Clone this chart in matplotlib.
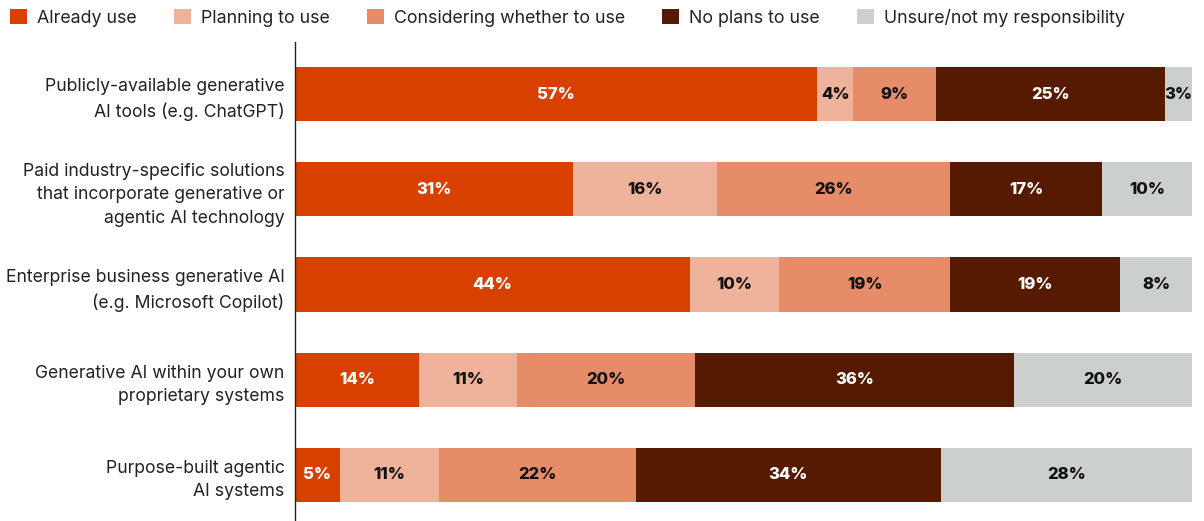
import matplotlib
matplotlib.use("Agg")
import matplotlib.pyplot as plt
from matplotlib.patches import Patch
import numpy as np

plt.rcParams['font.family'] = ['Inter', 'DejaVu Sans']

categories = [
    "Publicly-available generative\nAI tools (e.g. ChatGPT)",
    "Paid industry-specific solutions\nthat incorporate generative or\nagentic AI technology",
    "Enterprise business generative AI\n(e.g. Microsoft Copilot)",
    "Generative AI within your own\nproprietary systems",
    "Purpose-built agentic\nAI systems",
]
series_names = [
    "Already use",
    "Planning to use",
    "Considering whether to use",
    "No plans to use",
    "Unsure/not my responsibility",
]
already_use = [57, 31, 44, 14, 5]
planning_to_use = [4, 16, 10, 11, 11]
considering = [9, 26, 19, 20, 22]
no_plans = [25, 17, 19, 36, 34]
unsure = [3, 10, 8, 20, 28]

series = [already_use, planning_to_use, considering, no_plans, unsure]
colors = ["#D84000", "#EFB39B", "#E68C69", "#551A00", "#CBD0CE"]
text_colors = ["white", "#111111", "#111111", "white", "#111111"]

fig = plt.figure(figsize=(12.04, 5.21), dpi=100)
ax = fig.add_axes([295 / 1204, 0, (1192 - 295) / 1204, 1 - 42 / 521])

data = np.array(series, dtype=float)
totals = data.sum(axis=0)
shares = data / totals * 100  # each row spans the full width
y = np.arange(len(categories))
left = np.zeros(len(categories))
for vals, raw, col, tcol in zip(shares, data, colors, text_colors):
    ax.barh(y, vals, left=left, height=0.57, color=col, linewidth=0)
    for yi, l, v, r in zip(y, left, vals, raw):
        ax.text(l + v / 2, yi, f"{int(r)}%", ha="center", va="center",
                color=tcol, fontsize=12, fontweight="heavy")
    left += vals

ax.set_xlim(0, 100)
ax.set_ylim(4 + 46 / 95, -52 / 95)
ax.set_yticks(y)
ax.set_yticklabels(categories, fontsize=12.7, color="#222222", linespacing=1.5)
ax.tick_params(axis="y", length=0, pad=7.5)
ax.set_xticks([])
for s in ["top", "right", "bottom"]:
    ax.spines[s].set_visible(False)
ax.spines["left"].set_color("#222222")
ax.spines["left"].set_linewidth(1.0)

handles = [Patch(facecolor=c, edgecolor="none") for c in colors]
fig.legend(handles, series_names, loc="upper left", bbox_to_anchor=(-0.002, 1.007),
           ncol=5, frameon=False, fontsize=12.8, handlelength=0.95, handleheight=0.95,
           handletextpad=0.56, columnspacing=2.1, labelcolor="#222222",
           borderaxespad=0.3)

fig.savefig("out.png", dpi=100)
